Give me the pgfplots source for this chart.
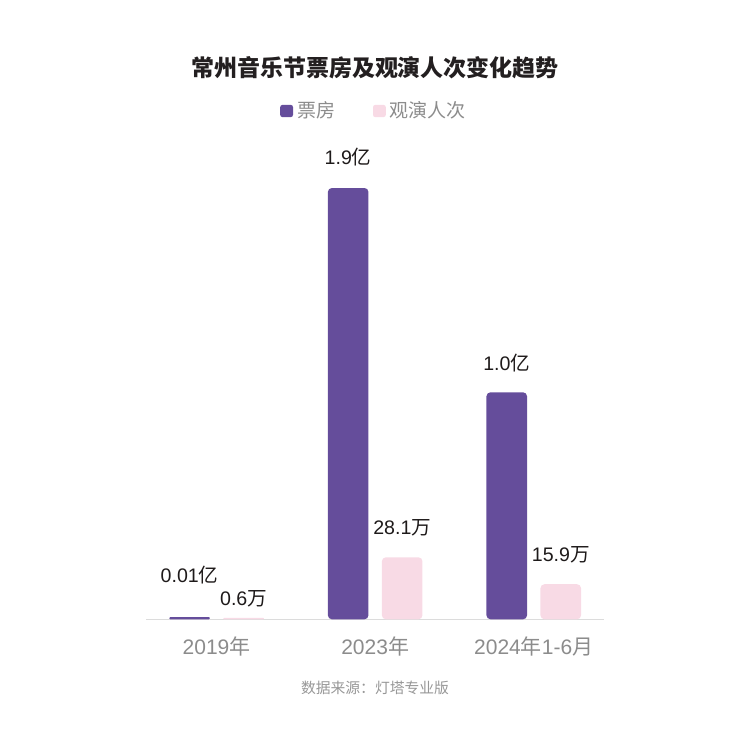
\documentclass[border=0pt]{standalone}
\usepackage{pgfplots}
\pgfplotsset{compat=1.18}
\usepackage{pgfplotstable}
\usepackage{fontspec}
\setmainfont{Noto Sans CJK SC}
\newfontfamily\lat{Liberation Sans}
\definecolor{cpurple}{HTML}{654D9B}
\definecolor{cpink}{HTML}{F8DAE5}
\definecolor{ctext}{HTML}{1E1A1A}
\definecolor{cgray}{HTML}{8C8C8C}
\definecolor{cline}{HTML}{DCDCDC}
\definecolor{ctitle}{HTML}{231F20}

\pgfplotstableread{
x y lab off
1 1.9 1.9 15.5
2 1.0 1.0 14.6
}\piaofang
\pgfplotstableread{
x y lab off
0 0.01 0.01 21
}\piaofangA
\pgfplotstableread{
x y lab off
1 28.1 28.1 14.6
2 15.9 15.9 14.5
}\renci
\pgfplotstableread{
x y lab off
0 0.6 0.6 9.5
}\renciA

\begin{document}
\begin{tikzpicture}
\path[use as bounding box] (0,0) rectangle (375pt,-375pt);
\node[font=\fontsize{11.5}{13}\selectfont\bfseries, text=ctitle] at (187.5pt,-34pt) {常州音乐节票房及观演人次变化趋势};
\node[font=\fontsize{7.4}{9}\selectfont, text=cgray!90] at (187.5pt,-344pt) {数据来源：灯塔专业版};

\pgfplotsset{
  lbl/.style={point meta=explicit symbolic,
    visualization depends on={\thisrow{off}\as\myoff},
    nodes near coords={{\lat\pgfplotspointmeta}#1},
    nodes near coords style={anchor=center, yshift=\myoff pt, text=ctext, font=\fontsize{9.8}{11}\selectfont}},
}

\begin{axis}[
  at={(73pt,-309.65pt)}, anchor=south west,
  scale only axis, width=229pt, height=215.65pt,
  xmin=-0.445, xmax=2.443, ymin=0, ymax=1.9,
  clip=false,
  axis x line*=bottom, axis y line=none,
  axis line style={cline, line width=0.6pt, -},
  xtick={0,1,2},
  xticklabels={{{\lat 2019}年},{{\lat 2023}年},{{\lat 2024}年{\lat 1-6}月}},
  xtick style={draw=none},
  xticklabel style={anchor=center, yshift=-9.4pt, text=cgray, font=\fontsize{10.5}{12}\selectfont},
  ybar, bar width=20.3pt,
  legend style={at={(0.5,1)}, anchor=center, yshift=38.5pt, draw=none, fill=none,
    font=\fontsize{9.5}{11}\selectfont, text=cgray,
    /tikz/every even column/.append style={column sep=17pt}},
  legend columns=2,
  legend image code/.code={\fill[rounded corners=1.2pt] (0pt,-3.1pt) rectangle (6.4pt,3.1pt);},
]
\addplot[fill=cpurple, draw=none, rounded corners=2pt, bar shift=-13.5pt, lbl=亿]
  table[x=x, y=y, meta=lab] {\piaofang};
\addlegendentry{票房}
\addlegendimage{fill=cpink, draw=none}
\addlegendentry{观演人次}
\addplot[forget plot, fill=cpurple, draw=none, rounded corners=0.5pt, bar shift=-13.5pt, lbl=亿]
  table[x=x, y=y, meta=lab] {\piaofangA};
\end{axis}

\begin{axis}[
  at={(73pt,-309.65pt)}, anchor=south west,
  scale only axis, width=229pt, height=215.65pt,
  xmin=-0.445, xmax=2.443, ymin=0, ymax=195.5,
  clip=false,
  axis lines=none, xtick=\empty, ytick=\empty,
  ybar, bar width=20.3pt,
]
\addplot[fill=cpink, draw=none, rounded corners=2pt, bar shift=13.5pt, lbl=万]
  table[x=x, y=y, meta=lab] {\renci};
\addplot[fill=cpink, draw=none, rounded corners=0.3pt, bar shift=13.5pt, lbl=万]
  table[x=x, y=y, meta=lab] {\renciA};
\end{axis}
\end{tikzpicture}
\end{document}
